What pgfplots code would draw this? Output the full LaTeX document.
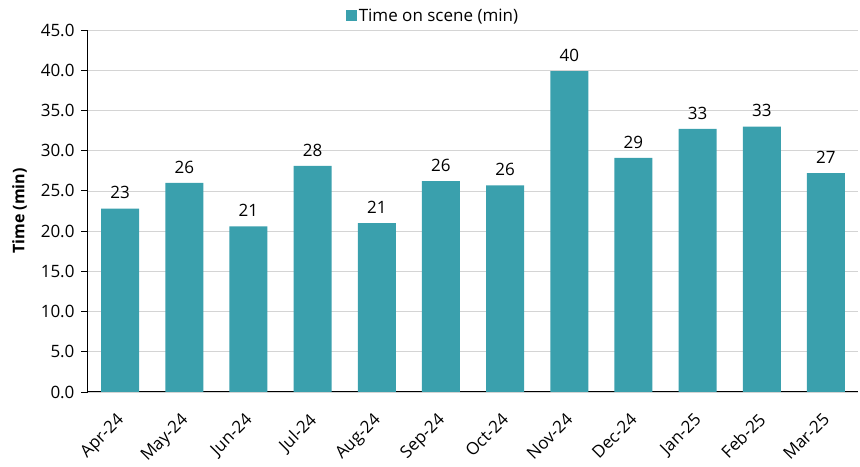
\documentclass[border=0pt]{standalone}
\usepackage{pgfplots}
\pgfplotsset{compat=1.18}
\usepackage{fontspec}
\setmainfont{Open Sans}
\definecolor{barteal}{HTML}{3AA0AD}
\definecolor{gridgray}{HTML}{D4D4D4}

\begin{document}
\begin{tikzpicture}
\begin{axis}[
  scale only axis,
  width=770pt, height=362pt,
  ybar, bar width=38pt,
  ymin=0, ymax=45,
  xmin=-0.5, xmax=11.5,
  ytick={0,5,...,45},
  xtick=data,
  xticklabels={Apr-24,May-24,Jun-24,Jul-24,Aug-24,Sep-24,Oct-24,Nov-24,Dec-24,Jan-25,Feb-25,Mar-25},
  x tick label style={rotate=45, anchor=north east, inner sep=1pt, yshift=-5pt, xshift=-11pt},
  y tick label style={xshift=-3pt},
  xtick style={draw=none},
  ytick style={black, thick},
  major tick length=7pt,
  tick align=outside,
  axis x line*=bottom, axis y line*=left,
  axis line style={black, line width=1pt},
  ymajorgrids, grid style={gridgray, line width=0.6pt},
  /pgf/number format/assume math mode=true,
  yticklabel style={/pgf/number format/fixed, /pgf/number format/fixed zerofill, /pgf/number format/precision=1},
  ticklabel style={font=\fontsize{17}{20}\selectfont},
  ylabel={\bfseries Time (min)},
  ylabel style={font=\fontsize{16}{19}\selectfont, yshift=7pt},
  nodes near coords,
  nodes near coords style={font=\fontsize{17}{20}\selectfont, /pgf/number format/fixed, /pgf/number format/precision=0, yshift=6pt},
  legend style={at={(0.448,1.0)}, anchor=south, yshift=4pt, draw=none, fill=none, font=\fontsize{17}{20}\selectfont, inner sep=1pt},
  legend image code/.code={\fill[barteal] (0pt,-5.5pt) rectangle (11pt,5.5pt);},
]
\addplot[fill=barteal, draw=none] coordinates {
  (0,22.8) (1,26.0) (2,20.6) (3,28.1) (4,21.0) (5,26.2)
  (6,25.7) (7,39.9) (8,29.1) (9,32.7) (10,33.0) (11,27.2)
};
\addlegendentry{Time on scene (min)}
\end{axis}
% page frame: margins for the axis title, tick labels and legend
\pgfresetboundingbox
\path ([shift={(-88pt,-75pt)}]current axis.south west)
  rectangle ([shift={(2pt,30pt)}]current axis.north east);
\end{tikzpicture}
\end{document}
